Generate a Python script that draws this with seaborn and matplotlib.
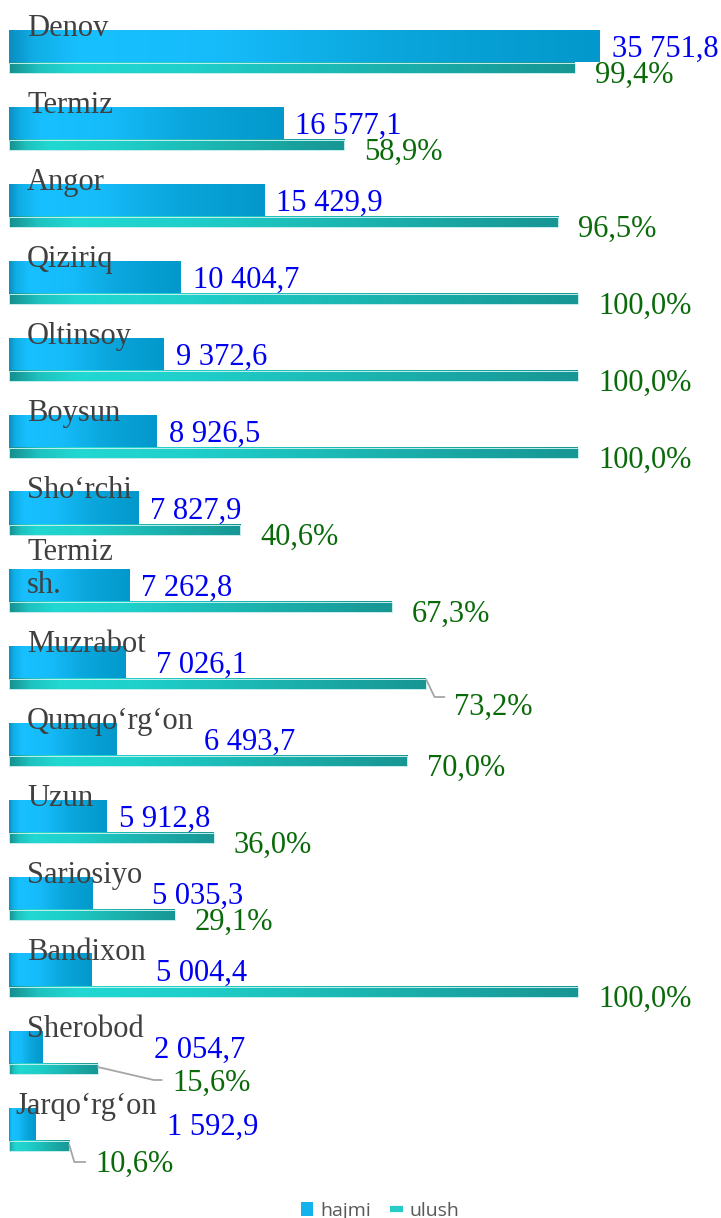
import numpy as np
import pandas as pd
import matplotlib
matplotlib.use("Agg")
import matplotlib.pyplot as plt
import seaborn as sns
from matplotlib.colors import LinearSegmentedColormap
from matplotlib.patches import Patch
from matplotlib.lines import Line2D
from matplotlib.transforms import IdentityTransform

# ---- data -------------------------------------------------------------
districts = ["Denov", "Termiz", "Angor", "Qiziriq", "Oltinsoy", "Boysun",
             "Sho‘rchi", "Termiz\nsh.", "Muzrabot", "Qumqo‘rg‘on", "Uzun",
             "Sariosiyo", "Bandixon", "Sherobod", "Jarqo‘rg‘on"]
hajmi = [35751.8, 16577.1, 15429.9, 10404.7, 9372.6, 8926.5, 7827.9,
         7262.8, 7026.1, 6493.7, 5912.8, 5035.3, 5004.4, 2054.7, 1592.9]
ulush = [99.4, 58.9, 96.5, 100.0, 100.0, 100.0, 40.6, 67.3, 73.2, 70.0,
         36.0, 29.1, 100.0, 15.6, 10.6]
series_names = ["hajmi", "ulush"]

df = pd.DataFrame({"tuman": districts, "hajmi": hajmi, "ulush": ulush})

# ---- style ------------------------------------------------------------
sns.set_style("white")
plt.rcParams["font.family"] = ["Liberation Serif", "DejaVu Serif"]

W, H, DPI = 721, 1218, 100
ROW = 77.0                  # px between rows
HAJ_C, HAJ_H = 46.0, 32.0   # hajmi bar centre / thickness (px)
UL_C, UL_H = 68.0, 10.5     # ulush bar centre / thickness (px)
X0, XW = 9.0, 702.0         # plot area left edge / width (px)
HAJ_MAX_PX = 591.0          # length of the longest hajmi bar
UL_FULL_PX = 569.0          # length of a 100 % ulush bar
LINE_PX = 37.0              # line step of wrapped category names

LABEL_SIZE = 22
CAT_COLOR = "#404040"
VAL_COLOR = "#0000F0"
PCT_COLOR = "#0A6A0A"

fig = plt.figure(figsize=(W / DPI, H / DPI), dpi=DPI, facecolor="white")
rect = [X0 / W, 0.0, XW / W, 1.0]
ax_h = fig.add_axes(rect)
ax_u = fig.add_axes(rect)


def ylim_for(center_px):
    return ((H - center_px) / ROW, -center_px / ROW)


# ---- bars -------------------------------------------------------------
sns.barplot(data=df, x="hajmi", y="tuman", orient="h", ax=ax_h,
            width=HAJ_H / ROW, color="#12B2EC", saturation=1, errorbar=None)
sns.barplot(data=df, x="ulush", y="tuman", orient="h", ax=ax_u,
            width=UL_H / ROW, color="#22CFCA", saturation=1, errorbar=None)

xlim_h = (0, max(hajmi) * XW / HAJ_MAX_PX)
xlim_u = (0, 100.0 * XW / UL_FULL_PX)

cmap_h = LinearSegmentedColormap.from_list("hajmi_fill", [
    (0.00, "#0a8fc2"), (0.04, "#10aee6"), (0.12, "#18c0ff"),
    (0.35, "#16bcfa"), (0.65, "#0aa6dc"), (1.00, "#0398cb")])
cmap_u = LinearSegmentedColormap.from_list("ulush_fill", [
    (0.00, "#168f8f"), (0.05, "#1ec2bf"), (0.12, "#22d8d2"),
    (0.32, "#1fcfca"), (0.68, "#1bb0ac"), (1.00, "#179694")])
grad = np.linspace(0, 1, 256).reshape(1, -1)


def paint(ax, cmap, edge):
    """Replace the flat bar fill with a horizontal gradient."""
    for p in list(ax.patches):
        x, y, w, h = p.get_x(), p.get_y(), p.get_width(), p.get_height()
        ax.imshow(grad, cmap=cmap, extent=(x, x + w, y + h, y),
                  aspect="auto", interpolation="bilinear", zorder=2)
        p.set_facecolor("none")
        p.set_edgecolor(edge)
        p.set_linewidth(0.7)
        p.set_zorder(3)


paint(ax_h, cmap_h, "none")
paint(ax_u, cmap_u, "#c2eeec")

for ax, xl, c in ((ax_h, xlim_h, HAJ_C), (ax_u, xlim_u, UL_C)):
    ax.set_xlim(*xl)
    ax.set_ylim(*ylim_for(c))
    ax.axis("off")

# ---- labels -----------------------------------------------------------
cat_dx = {"Jarqo‘rg‘on": 6}
leaders = {
    "Muzrabot": dict(text=(28, 31), path=[(1, -4), (9, 13), (19, 13)]),
    "Sherobod": dict(text=(75, 22), path=[(0, -2), (56, 11), (64, 11)]),
    "Jarqo‘rg‘on": dict(text=(26, 26), path=[(0, -1), (5, 16), (16, 16)]),
}


def fmt_num(v):
    return f"{v:,.1f}".replace(",", " ").replace(".", ",")


def fmt_pct(v):
    return f"{v:.1f}%".replace(".", ",")


# category names on the top edge of each hajmi bar; the anchor is the
# baseline of the last line, so wrapped names stay centred on the bar top
cat_texts = []
for i, name in enumerate(districts):
    nlines = name.count("\n") + 1
    t = ax_h.annotate(name, xy=(0, i),
                      xytext=(cat_dx.get(name, 18), 10 - (LINE_PX / 2) * (nlines - 1)),
                      textcoords="offset pixels", ha="left", va="baseline",
                      fontsize=LABEL_SIZE, color=CAT_COLOR, zorder=6,
                      annotation_clip=False, linespacing=1.2)
    cat_texts.append(t)

fig.canvas.draw()
renderer = fig.canvas.get_renderer()

for i, (name, hv, uv) in enumerate(zip(districts, hajmi, ulush)):
    # value label after the bar end, kept clear of the category name
    end_px = ax_h.transData.transform((hv, i))[0]
    left_px = end_px + 12
    if "\n" not in name:
        cat_bb = cat_texts[i].get_window_extent(renderer)
        left_px = max(left_px, cat_bb.x1 + 10)
    ax_h.annotate(fmt_num(hv), xy=(hv, i), xytext=(left_px - end_px, -11),
                  textcoords="offset pixels", ha="left", va="baseline",
                  fontsize=LABEL_SIZE, color=VAL_COLOR, zorder=6,
                  annotation_clip=False)

    # share label after the ulush bar, some with a leader line
    spec = leaders.get(name)
    dx, dy = spec["text"] if spec else (20, 15)
    ax_u.annotate(fmt_pct(uv), xy=(uv, i), xytext=(dx, -dy),
                  textcoords="offset pixels", ha="left", va="baseline",
                  fontsize=LABEL_SIZE, color=PCT_COLOR, zorder=6,
                  annotation_clip=False)
    if spec:
        bx, by = ax_u.transData.transform((uv, i))
        xs = [bx + ox for ox, oy in spec["path"]]
        ys = [by - oy for ox, oy in spec["path"]]
        fig.add_artist(Line2D(xs, ys, transform=IdentityTransform(),
                              color="#a6a6a6", lw=1.3))

# ---- legend -----------------------------------------------------------
handles = [Patch(facecolor="#12b2ec", edgecolor="none"),
           Line2D([0], [0], color="#27ccc8", lw=4.5, solid_capstyle="butt")]
fig.legend(handles, series_names, loc="lower center",
           bbox_to_anchor=(380 / W, -0.0156), ncol=2, frameon=False,
           prop={"family": "Open Sans", "size": 14}, labelcolor="#595959",
           handlelength=0.65, handleheight=0.75, handletextpad=0.35,
           columnspacing=1.0)

fig.savefig("out.png", dpi=DPI, facecolor="white")
